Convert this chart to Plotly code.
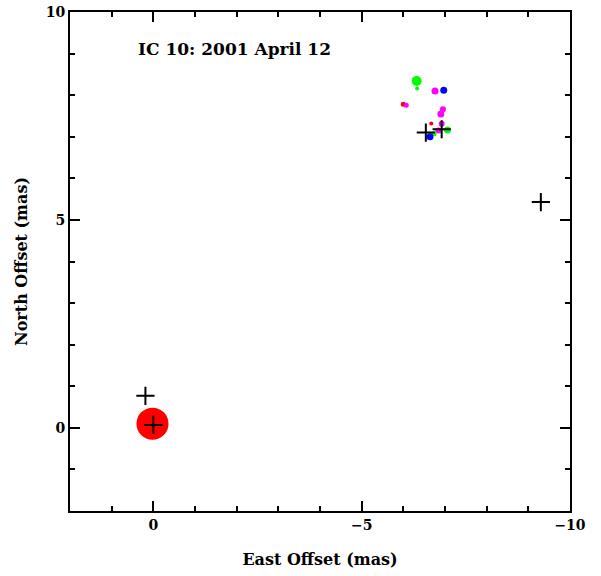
import plotly.graph_objects as go

# Maser spot positions (East offset, North offset in mas) and sizes
red_x = [0.02, -6.0, -6.67]
red_y = [0.10, 7.78, 7.32]
red_s = [32, 5, 4]

green_x = [-6.32, -6.33, -7.06, -6.74]
green_y = [8.34, 8.16, 7.16, 7.07]
green_s = [10, 4, 7, 5]

blue_x = [-6.97, -6.64]
blue_y = [8.12, 7.00]
blue_s = [7, 7]

magenta_x = [-6.76, -6.07, -6.95, -6.90, -6.92, -6.84]
magenta_y = [8.10, 7.76, 7.66, 7.55, 7.31, 7.15]
magenta_s = [7, 5, 6, 7, 6, 6]

cross_x = [0.19, 0.0, -6.54, -6.92, -9.30]
cross_y = [0.77, 0.07, 7.10, 7.18, 5.43]

title_text = "IC 10: 2001 April 12"

FONT = "DejaVu Serif"

fig = go.Figure()
for xs, ys, ss, col in [(red_x, red_y, red_s, "#ff0000"),
                        (magenta_x, magenta_y, magenta_s, "#ff00ff"),
                        (green_x, green_y, green_s, "#00ff00"),
                        (blue_x, blue_y, blue_s, "#0000ff")]:
    fig.add_trace(go.Scatter(x=xs, y=ys, mode="markers",
                             marker=dict(size=ss, color=col, opacity=1, line=dict(width=0)),
                             showlegend=False, hoverinfo="skip"))

fig.add_trace(go.Scatter(x=cross_x, y=cross_y, mode="markers",
                         marker=dict(symbol="cross-thin", size=13, opacity=1,
                                     line=dict(width=2, color="black")),
                         showlegend=False, hoverinfo="skip"))

axis_common = dict(
    showgrid=False, zeroline=False, showline=True, linecolor="black", linewidth=2,
    mirror="allticks", ticks="inside", ticklen=10, tickwidth=1.5, tickcolor="black",
    automargin=False,
    tickfont=dict(family=FONT, size=14, color="black", weight="bold"),
    minor=dict(ticks="inside", ticklen=5, tickwidth=1.5, tickcolor="black", dtick=1),
)

fig.update_xaxes(range=[2, -10], tickvals=[0, -5, -10], ticktext=["0", "−5", "−10"],
                 title=dict(text="East Offset (mas)", standoff=22,
                            font=dict(family=FONT, size=16, color="black", weight="bold")),
                 **axis_common)
fig.update_yaxes(range=[-2, 10], tickvals=[0, 5, 10], ticktext=["0", "5", "10"],
                 title=dict(text="North Offset (mas)", standoff=14,
                            font=dict(family=FONT, size=16, color="black", weight="bold")),
                 **axis_common)

fig.add_annotation(x=0.132, y=0.925, xref="paper", yref="paper", text=title_text,
                   showarrow=False, xanchor="left", yanchor="middle",
                   font=dict(family=FONT, size=17, color="black", weight="bold"))

fig.update_layout(width=601, height=576, margin=dict(l=70, r=31, t=12, b=65),
                  plot_bgcolor="white", paper_bgcolor="white")

fig.write_html("out.html", config={"displayModeBar": False},
               post_script="document.body.style.margin='0';document.body.style.overflow='hidden';")
